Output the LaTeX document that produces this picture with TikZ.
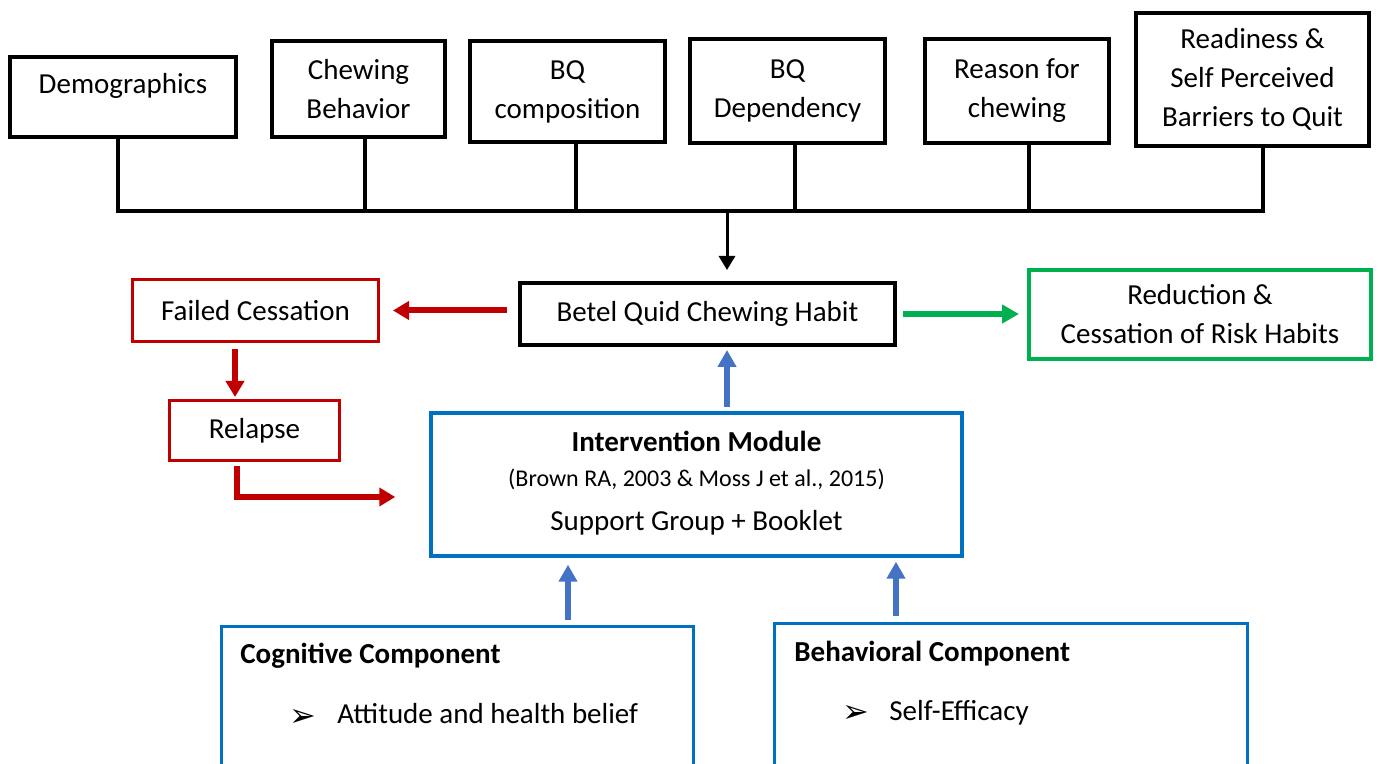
\documentclass[tikz,border=0pt]{standalone}
\usepackage{fontspec}
\setmainfont{Carlito}
\newfontfamily\dingfont{DejaVu Sans}
\usetikzlibrary{arrows.meta}

\definecolor{boxred}{HTML}{C00000}
\definecolor{boxgreen}{HTML}{00B050}
\definecolor{boxblue}{HTML}{0070C0}
\definecolor{arrowblue}{HTML}{4472C4}

\begin{document}
\begin{tikzpicture}[x=0.5pt,y=-0.5pt,
  base/.style={rectangle, inner sep=0pt, align=center, text=black,
    font=\fontsize{14.5pt}{19.5pt}\selectfont},
  blackbox/.style={base, draw=black, line width=2pt},
  redbox/.style={base, draw=boxred, line width=1.5pt},
  greenbox/.style={base, draw=boxgreen, line width=2pt},
  bluebox/.style={base, draw=boxblue, line width=1.75pt},
  txt/.style={inner sep=0pt, text=black, font=\fontsize{14.5pt}{19pt}\selectfont},
  smalltxt/.style={inner sep=0pt, text=black, font=\fontsize{12pt}{14pt}\selectfont},
  bullet/.style={inner sep=0pt, text=black, font=\dingfont\fontsize{16pt}{16pt}\selectfont},
  conn/.style={draw=black, line width=2pt},
  blackarrow/.style={draw=black, line width=1.5pt, -{Triangle[width=8pt,length=7pt]}},
  redarrow/.style={draw=boxred, line width=3pt, -{Triangle[width=9pt,length=8pt]}},
  greenarrow/.style={draw=boxgreen, line width=2.75pt, -{Triangle[width=9pt,length=8.5pt]}},
  bluearrow/.style={draw=arrowblue, line width=3.25pt, -{Triangle[width=9pt,length=8.5pt]}},
]
\useasboundingbox (0,0) rectangle (1378,764);
\clip (0,0) rectangle (1378,764);

% ---- factors feeding the habit ----
\node[blackbox, minimum width=113pt, minimum height=40pt] (demo) at (123,97) {};
\node[txt, anchor=base] (demo-t) at (123,94) {Demographics};
\node[blackbox, minimum width=86.5pt, minimum height=48pt] (chew) at (358.5,89) {Chewing\\Behavior};
\node[blackbox, minimum width=97.5pt, minimum height=50.5pt] (bqc) at (567.5,91.5) {BQ\\composition};
\node[blackbox, minimum width=97.5pt, minimum height=52pt] (bqd) at (787.5,91) {BQ\\Dependency};
\node[blackbox, minimum width=92pt, minimum height=52pt] (reason) at (1017,91) {Reason for\\chewing};
\node[blackbox, minimum width=116.5pt, minimum height=66.5pt] (ready) at (1252.5,79.5) {Readiness \&\\Self Perceived\\Barriers to Quit};

% ---- bus joining the factors ----
\coordinate (hub) at (727,211);
\coordinate (d1) at ([xshift=-2.5pt]demo.south);
\coordinate (d2) at ([xshift=3.25pt]chew.south);
\coordinate (d3) at ([xshift=4.25pt]bqc.south);
\coordinate (d4) at ([xshift=3.75pt]bqd.south);
\coordinate (d5) at ([xshift=6pt]reason.south);
\coordinate (d6) at ([xshift=5.25pt]ready.south);
\draw[conn] (d1) |- (d6 |- hub) -- (d6);
\draw[conn] (d2) -- (d2 |- hub);
\draw[conn] (d3) -- (d3 |- hub);
\draw[conn] (d4) -- (d4 |- hub);
\draw[conn] (d5) -- (d5 |- hub);

% ---- central habit and outcomes ----
\node[blackbox, minimum width=187.5pt, minimum height=31pt] (betel) at (707.5,314) {Betel Quid Chewing Habit};
\node[redbox, minimum width=123pt, minimum height=31pt] (fail) at (255.5,310.5) {Failed Cessation};
\node[redbox, minimum width=85pt, minimum height=30pt] (relapse) at (254.5,430.5) {Relapse};
\node[greenbox, minimum width=171pt, minimum height=44.5pt] (reduce) at (1200,314.5) {Reduction \&\\Cessation of Risk Habits};

\draw[blackarrow, shorten >=5.5pt] (hub) -- (hub |- betel.north);
\draw[redarrow, shorten <=5.5pt, shorten >=6.5pt] (betel.west |- fail.east) -- (fail.east);
\draw[greenarrow, shorten <=3pt, shorten >=4pt] (betel.east) -- (betel.east -| reduce.west);
\draw[redarrow, shorten <=3pt, shorten >=1pt] ([xshift=-10.25pt]fail.south) -- ([xshift=-10.25pt]fail.south |- relapse.north);

% ---- intervention module ----
\node[bluebox, minimum width=265.5pt, minimum height=71.5pt] (interv) at (696.5,484.5) {};
\node[txt, anchor=base, font=\bfseries\fontsize{14.5pt}{19pt}\selectfont] (interv-title) at (696.5,452) {Intervention Module};
\node[smalltxt, anchor=base] (interv-cite) at (696.5,487) {(Brown RA, 2003 \& Moss J et al., 2015)};
\node[txt, anchor=base] (interv-body) at (696.5,531) {Support Group + Booklet};

\draw[bluearrow, shorten <=2pt, shorten >=1.5pt] (hub |- interv.north) -- (hub |- betel.south);
\draw[redarrow, shorten <=2pt, shorten >=17pt] ([xshift=-8.75pt]relapse.south) |- ([yshift=-6.25pt]interv.west);

% ---- components ----
\node[bluebox, line width=1.5pt, minimum width=236pt, minimum height=86.5pt] (cog) at (457.5,713.5) {};
\node[txt, anchor=base west, font=\bfseries\fontsize{14.5pt}{19pt}\selectfont] (cog-title) at (240,664) {Cognitive Component};
\node[bullet, anchor=base west] (cog-b) at (289,726) {➢};
\node[txt, anchor=base west] (cog-item) at (337,724) {Attitude and health belief};

\node[bluebox, line width=1.5pt, minimum width=236.5pt, minimum height=88pt] (beh) at (1011,712) {};
\node[txt, anchor=base west, font=\bfseries\fontsize{14.5pt}{19pt}\selectfont] (beh-title) at (794,662) {Behavioral Component};
\node[bullet, anchor=base west] (beh-b) at (842,723) {➢};
\node[txt, anchor=base west] (beh-item) at (889,721) {Self-Efficacy};

\coordinate (cogx) at (568,0);
\coordinate (behx) at (896,0);
\draw[bluearrow, shorten <=2.5pt, shorten >=3.5pt] (cogx |- cog.north) -- (cogx |- interv.south);
\draw[bluearrow, shorten <=3pt, shorten >=2pt] (behx |- beh.north) -- (behx |- interv.south);
\end{tikzpicture}
\end{document}
